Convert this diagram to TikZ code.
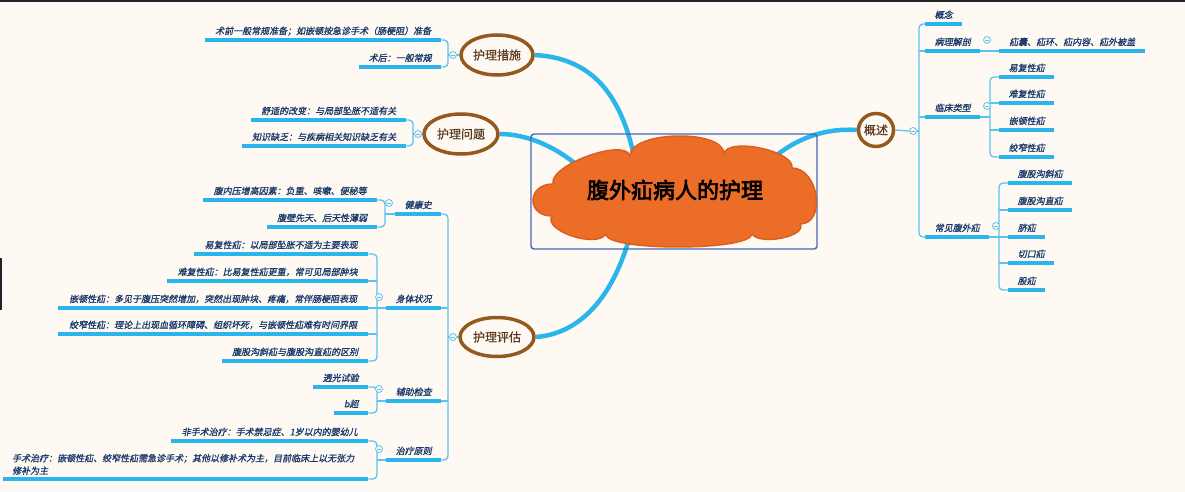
\documentclass[tikz,border=0pt]{standalone}
\usepackage{fontspec}
\setmainfont{Noto Sans CJK SC}
\newfontfamily\leaffont[FakeSlant=0.2,FakeBold=1.2]{Noto Sans CJK SC}
\newfontfamily\titlefont[FakeBold=3]{Noto Sans CJK SC}
\newfontfamily\topicfont[FakeBold=0.6]{Noto Sans CJK SC}
\usetikzlibrary{shapes.geometric}
\definecolor{bgc}{HTML}{FFF9F4}
\definecolor{darkc}{HTML}{202428}
\definecolor{linec}{HTML}{2AB5EC}
\definecolor{brc}{HTML}{5BC3F0}
\definecolor{leafc}{HTML}{1B3A6B}
\definecolor{brownc}{HTML}{94591E}
\definecolor{topictext}{HTML}{5A3A1E}
\definecolor{cloudfill}{HTML}{EC6D28}
\definecolor{cloudline}{HTML}{DB5F1E}
\definecolor{framec}{HTML}{4466B5}
\pgfdeclarelayer{bottom}
\pgfdeclarelayer{back}
\pgfsetlayers{bottom,back,main}
\begin{document}
\begin{tikzpicture}[x=1pt,y=-1pt,
  leafbase/.style={font=\leaffont\fontsize{9}{12.5}\selectfont, text=leafc, inner ysep=4pt, anchor=south west},
  leaf/.style={leafbase, inner xsep=0pt, text height=8pt, text depth=1.5pt},
  topic/.style={ellipse, draw=brownc, line width=3.5pt, fill=bgc, font=\topicfont\fontsize{12}{14}\selectfont, text=topictext, inner sep=0pt},
  mainline/.style={draw=linec, line width=4.5pt},
  br/.style={draw=brc, line width=1.3pt},
  ul/.style={draw=linec, line width=4pt},
  tog/.style={circle, draw=brc, fill=bgc, line width=0.8pt, minimum size=7pt, inner sep=0pt,
    path picture={\draw[brc, line width=0.7pt] ([xshift=-2pt]path picture bounding box.center) -- ([xshift=2pt]path picture bounding box.center);}}
]
\useasboundingbox (0,0) rectangle (1185,492);
\begin{pgfonlayer}{bottom}
\fill[bgc] (0,0) rectangle (1185,492);
\fill[darkc] (0,0) rectangle (1185,2.5);
\fill[darkc] (0,258) rectangle (2,310);
\end{pgfonlayer}

% central frame and cloud
\node[draw=framec, line width=1.4pt, rounded corners=3pt, minimum width=286, minimum height=115, inner sep=0pt] (frame) at (674,191.5) {};
\filldraw[fill=cloudfill, draw=cloudline, line width=1.5pt]
  (553,184) .. controls (548.3,165.3) and (625.3,137.3) .. (630,156)
  .. controls (630,130.7) and (724,128.7) .. (724,154)
  .. controls (726.7,136.7) and (794.7,150.7) .. (792,168)
  .. controls (818.7,168) and (826.7,224) .. (800,224)
  .. controls (808,236) and (760,246) .. (752,234)
  .. controls (750.7,251.3) and (604.7,251.3) .. (606,234)
  .. controls (596.7,248.7) and (542.7,230.7) .. (552,216)
  .. controls (526,216) and (527,184) .. (553,184) -- cycle;
\node[font=\titlefont\fontsize{22}{26}\selectfont, text=black, inner sep=0pt] (root) at (675,190) {腹外疝病人的护理};

% main topics
\node[topic, minimum width=72, minimum height=40] (pcs) at (497,55) {护理措施};
\node[topic, minimum width=74, minimum height=40] (wt) at (461,134) {护理问题};
\node[topic, minimum width=74, minimum height=39] (pg) at (497,337) {护理评估};
\node[topic, minimum width=35, minimum height=33] (gs) at (876,130) {概述};

% curve start points (hidden under the cloud)
\coordinate (r1) at (637,172);
\coordinate (r2) at (600,188);
\coordinate (r3) at (632,228);
\coordinate (r4) at (758,172);
\begin{pgfonlayer}{back}
\draw[mainline] (r1) .. controls (624,92) and (590,58) .. (pcs.east);
\draw[mainline] (r2) .. controls (568,150) and (530,134) .. (wt.east);
\draw[mainline] (r3) .. controls (614,300) and (578,334) .. (pg.east);
\draw[mainline] (r4) .. controls (792,136) and (828,128) .. (gs.west);
\end{pgfonlayer}

% ---- 护理措施
\node[leaf, minimum width=236] (m1) at (205,40) {术前一般常规准备；如嵌顿按急诊手术（肠梗阻）准备};
\node[leaf, minimum width=82] (m2) at (359,67) {术后：一般常规};
% ---- 护理问题
\node[leaf, minimum width=155] (q1) at (251,120) {舒适的改变：与局部坠胀不适有关};
\node[leaf, minimum width=164] (q2) at (242,146) {知识缺乏：与疾病相关知识缺乏有关};
% ---- 护理评估
\node[leaf, minimum width=46] (e1) at (395,214) {健康史};
\node[leaf, minimum width=55] (e2) at (386,308) {身体状况};
\node[leaf, minimum width=55] (e3) at (386,401) {辅助检查};
\node[leaf, minimum width=55] (e4) at (386,460) {治疗原则};
\node[leaf, minimum width=174] (e11) at (203,200) {腹内压增高因素：负重、咳嗽、便秘等};
\node[leaf, minimum width=110] (e12) at (267,227) {腹壁先天、后天性薄弱};
\node[leaf, minimum width=174] (e21) at (194,254) {易复性疝：以局部坠胀不适为主要表现};
\node[leaf, minimum width=201] (e22) at (167,281) {难复性疝：比易复性疝更重，常可见局部肿块};
\node[leaf, minimum width=310] (e23) at (58,308) {嵌顿性疝：多见于腹压突然增加，突然出现肿块、疼痛，常伴肠梗阻表现};
\node[leaf, minimum width=310] (e24) at (58,334) {绞窄性疝：理论上出现血循环障碍、组织坏死，与嵌顿性疝难有时间界限};
\node[leaf, minimum width=146] (e25) at (222,361) {腹股沟斜疝与腹股沟直疝的区别};
\node[leaf, minimum width=55] (e31) at (313,387) {透光试验};
\node[leaf, minimum width=34] (e32) at (334,413) {b超};
\node[leaf, minimum width=197] (e41) at (171,441) {非手术治疗：手术禁忌症、1岁以内的婴幼儿};
\node[leafbase, inner xsep=9pt, text width=347pt, align=left] (e42) at (3,479) {手术治疗：嵌顿性疝、绞窄性疝需急诊手术；其他以修补术为主，目前临床上以无张力\\修补为主};
% ---- 概述
\node[leaf, minimum width=37] (o1) at (925,24) {概念};
\node[leaf, minimum width=55] (o2) at (925,51) {病理解剖};
\node[leaf, minimum width=146] (o21) at (999,51) {疝囊、疝环、疝内容、疝外被盖};
\node[leaf, minimum width=55] (o3) at (925,117) {临床类型};
\node[leaf, minimum width=55] (o31) at (999,77) {易复性疝};
\node[leaf, minimum width=55] (o32) at (999,103) {难复性疝};
\node[leaf, minimum width=55] (o33) at (999,130) {嵌顿性疝};
\node[leaf, minimum width=55] (o34) at (999,157) {绞窄性疝};
\node[leaf, minimum width=64] (o4) at (925,237) {常见腹外疝};
\node[leaf, minimum width=64] (o41) at (1008,183) {腹股沟斜疝};
\node[leaf, minimum width=64] (o42) at (1008,210) {腹股沟直疝};
\node[leaf, minimum width=37] (o43) at (1008,237) {脐疝};
\node[leaf, minimum width=46] (o44) at (1008,263) {切口疝};
\node[leaf, minimum width=37] (o45) at (1008,290) {股疝};

% junctions
\coordinate (jpcs) at (448,55);
\coordinate (jwt) at (413,134);
\coordinate (jpg) at (448,337);
\coordinate (je1) at (385,214);
\coordinate (je2) at (377,308);
\coordinate (je3) at (377,401);
\coordinate (je4) at (377,460);
\coordinate (jgs) at (919,131);
\coordinate (jo3) at (990,117);
\coordinate (jo4) at (999,237);

% toggles
\node[tog] (tpcs) at (453,55) {};
\node[tog] (twt) at (418,134) {};
\node[tog] (tpg) at (453,337) {};
\node[tog] (te1) at (389,203) {};
\node[tog] (te2) at (379,297) {};
\node[tog] (te3) at (379,389) {};
\node[tog] (te4) at (379,449) {};
\node[tog] (tgs) at (913,131) {};
\node[tog] (to2) at (987,40) {};
\node[tog] (to3) at (987,106) {};
\node[tog] (to4) at (996,226) {};

\begin{pgfonlayer}{back}
% 护理措施
\draw[br] (pcs.west) -- (tpcs.east);
\draw[br] (tpcs.west) -- (jpcs);
\draw[br, rounded corners=4pt] (m1.south east) -- (m1.south east -| jpcs) |- (m2.south east);
% 护理问题
\draw[br] (wt.west) -- (twt.east);
\draw[br] (twt.west) -- (jwt);
\draw[br, rounded corners=4pt] (q1.south east) -- (q1.south east -| jwt) |- (q2.south east);
% 护理评估
\draw[br] (pg.west) -- (tpg.east);
\draw[br] (tpg.west) -- (jpg);
\draw[br, rounded corners=4pt] (e1.south east) -- (e1.south east -| jpg) |- (e4.south east);
\draw[br] (e2.south east) -- (e2.south east -| jpg);
\draw[br] (e3.south east) -- (e3.south east -| jpg);
\draw[br] (e1.south west) -- (je1);
\draw[br, rounded corners=4pt] (e11.south east) -- (e11.south east -| je1) |- (e12.south east);
\draw[br] (e2.south west) -- (je2);
\draw[br, rounded corners=4pt] (e21.south east) -- (e21.south east -| je2) |- (e25.south east);
\draw[br] (e22.south east) -- (e22.south east -| je2);
\draw[br] (e23.south east) -- (e23.south east -| je2);
\draw[br] (e24.south east) -- (e24.south east -| je2);
\draw[br] (e3.south west) -- (je3);
\draw[br, rounded corners=4pt] (e31.south east) -- (e31.south east -| je3) |- (e32.south east);
\draw[br] (e4.south west) -- (je4);
\draw[br, rounded corners=4pt] (e41.south east) -- (e41.south east -| je4) |- (e42.south east);
% 概述
\draw[br] (gs.east) -- (tgs.west);
\draw[br] (tgs.east) -- (jgs);
\draw[br, rounded corners=4pt] (o1.south west) -- (o1.south west -| jgs) |- (o4.south west);
\draw[br] (o2.south west) -- (o2.south west -| jgs);
\draw[br] (o3.south west) -- (o3.south west -| jgs);
\draw[br] (o2.south east) -- (o21.south west);
\draw[br] (o3.south east) -- (jo3);
\draw[br, rounded corners=4pt] (o31.south west) -- (o31.south west -| jo3) |- (o34.south west);
\draw[br] (o32.south west) -- (o32.south west -| jo3);
\draw[br] (o33.south west) -- (o33.south west -| jo3);
\draw[br] (o4.south east) -- (jo4);
\draw[br, rounded corners=4pt] (o41.south west) -- (o41.south west -| jo4) |- (o45.south west);
\draw[br] (o42.south west) -- (o42.south west -| jo4);
\draw[br] (o43.south west) -- (o43.south west -| jo4);
\draw[br] (o44.south west) -- (o44.south west -| jo4);
\end{pgfonlayer}

% underlines
\foreach \n in {m1,m2,q1,q2,e1,e2,e3,e4,e11,e12,e21,e22,e23,e24,e25,e31,e32,e41,e42,o1,o2,o21,o3,o31,o32,o33,o34,o4,o41,o42,o43,o44,o45}
  \draw[ul] (\n.south west) -- (\n.south east);
\end{tikzpicture}
\end{document}
